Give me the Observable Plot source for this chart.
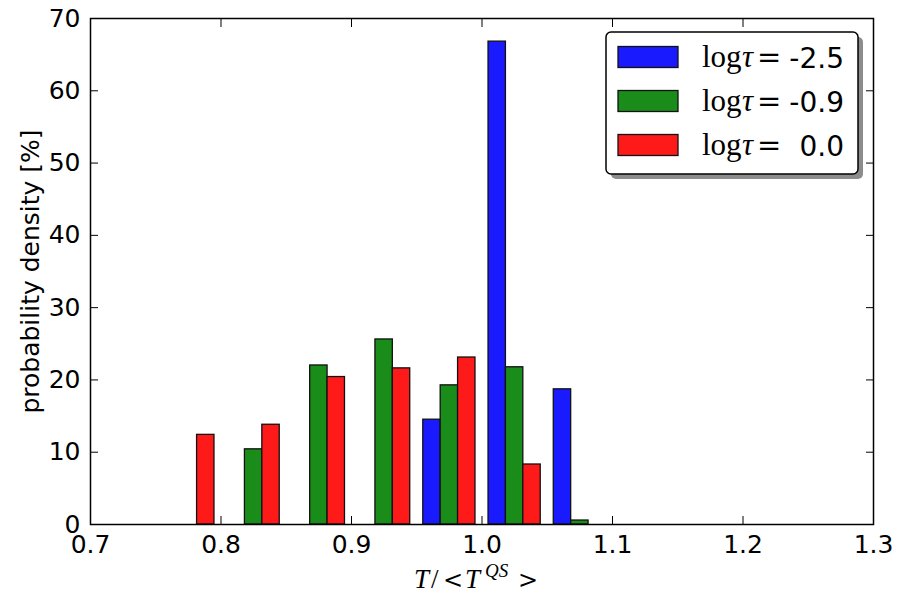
<!DOCTYPE html>
<html><head><meta charset="utf-8">
<script src="https://cdn.jsdelivr.net/npm/d3@7"></script>
<script src="https://cdn.jsdelivr.net/npm/@observablehq/plot@0.6"></script>
<style>body{margin:0;background:#fff}</style>
</head><body><div id="chart"></div>
<script>
// ---- data ----
const binEdges = [0.75, 0.80, 0.85, 0.90, 0.95, 1.00, 1.05];
const binWidth = 0.05;
const seriesLabels = ["-2.5", "-0.9", "0.0"];
const densityTauM25 = [0, 0, 0, 0, 14.5, 66.8, 18.7];
const densityTauM09 = [0, 10.4, 22.0, 25.6, 19.25, 21.75, 0.55];
const densityTau00 = [12.4, 13.8, 20.4, 21.6, 23.1, 8.3, 0];
const seriesColors = ["#1a1aff", "#1a8c1a", "#ff1a1a"];
const xTicks = [0.7, 0.8, 0.9, 1.0, 1.1, 1.2, 1.3];
const yTicks = [0, 10, 20, 30, 40, 50, 60, 70];

// ---- grouped histogram bars (matplotlib-style dodge inside each bin) ----
const series = [densityTauM25, densityTauM09, densityTau00];
const barW = binWidth * 0.8 / series.length;
const rows = [];
series.forEach((vals, s) => vals.forEach((v, i) => {
  if (v > 0) {
    const x1 = binEdges[i] + binWidth * 0.1 + s * barW;
    rows.push({series: seriesLabels[s], x1, x2: x1 + barW, v});
  }
}));

const W = 900, H = 600, mL = 90, mR = 27, mT = 18, mB = 76;
const plot = Plot.plot({
  width: W, height: H,
  marginLeft: mL, marginRight: mR, marginTop: mT, marginBottom: mB,
  style: {fontFamily: "'DejaVu Sans', sans-serif", fontSize: "25px", background: "#fff", color: "#000"},
  x: {domain: [0.7, 1.3], label: null},
  y: {domain: [0, 70], label: null},
  color: {domain: seriesLabels, range: seriesColors},
  marks: [
    Plot.rect(rows, {x1: "x1", x2: "x2", y1: 0, y2: "v", fill: "series", stroke: "#111", strokeWidth: 1.3}),
    Plot.frame({stroke: "#000", strokeWidth: 1.5}),
    Plot.axisX({ticks: xTicks, tickFormat: d3.format(".1f"), tickSize: -8, tickPadding: 19, label: null}),
    Plot.axisX({anchor: "top", ticks: xTicks, tickSize: -8, tickFormat: () => "", label: null}),
    Plot.axisY({ticks: yTicks, tickSize: -8, tickPadding: 18, label: null}),
    Plot.axisY({anchor: "right", ticks: yTicks, tickSize: -8, tickFormat: () => "", label: null}),
    Plot.text(["probability density [%]"], {text: d => d, frameAnchor: "left", textAnchor: "middle", rotate: -90, dx: -60, fontSize: 25})
  ]
});
document.getElementById("chart").appendChild(plot);

// ---- x-axis math label and legend ----
const svg = d3.select(plot);
const serif = "'Liberation Serif', 'DejaVu Serif', serif";
const relFont = "'DejaVu Serif', serif";
const xl = svg.append("text")
  .attr("y", 588).attr("text-anchor", "start")
  .attr("font-family", serif).attr("font-size", 27).attr("fill", "#000");
xl.append("tspan").attr("x", 414).attr("font-style", "italic").text("T");
xl.append("tspan").attr("x", 431).text("/");
xl.append("tspan").attr("x", 443).attr("font-family", relFont).attr("font-size", 24).text("<");
xl.append("tspan").attr("x", 465).attr("font-style", "italic").text("T");
xl.append("tspan").attr("x", 485).attr("font-style", "italic").attr("font-size", 19).attr("dy", -11).text("QS");
xl.append("tspan").attr("x", 518).attr("dy", 11).attr("font-family", relFont).attr("font-size", 24).text(">");

const lx = 606, ly = 32, lw = 252, lh = 142;
const lg = svg.append("g").attr("text-anchor", "start");
lg.append("rect").attr("x", lx + 5).attr("y", ly + 5).attr("width", lw).attr("height", lh)
  .attr("rx", 5).attr("fill", "#8c8c8c");
lg.append("rect").attr("x", lx).attr("y", ly).attr("width", lw).attr("height", lh)
  .attr("rx", 5).attr("fill", "#fff").attr("stroke", "#000").attr("stroke-width", 1.5);
seriesLabels.forEach((lab, s) => {
  const cy = 57 + s * 44;
  lg.append("rect").attr("x", 618).attr("y", cy - 10.5).attr("width", 60).attr("height", 21)
    .attr("fill", seriesColors[s]).attr("stroke", "#111").attr("stroke-width", 1.3);
  const t = lg.append("text").attr("y", cy + 10).attr("text-anchor", "start")
    .attr("font-family", serif).attr("font-size", 31).attr("fill", "#000");
  t.append("tspan").attr("x", 702).text("log");
  t.append("tspan").attr("x", 742).attr("font-style", "italic").text("τ");
  t.append("tspan").attr("x", 757).attr("font-family", relFont).attr("font-size", 29).text("=");
  lg.append("text").attr("x", 844).attr("y", cy + 10.5).attr("text-anchor", "end")
    .attr("font-family", "'DejaVu Sans', sans-serif").attr("font-size", 28).attr("fill", "#000").text(lab);
});
</script>
</body></html>
